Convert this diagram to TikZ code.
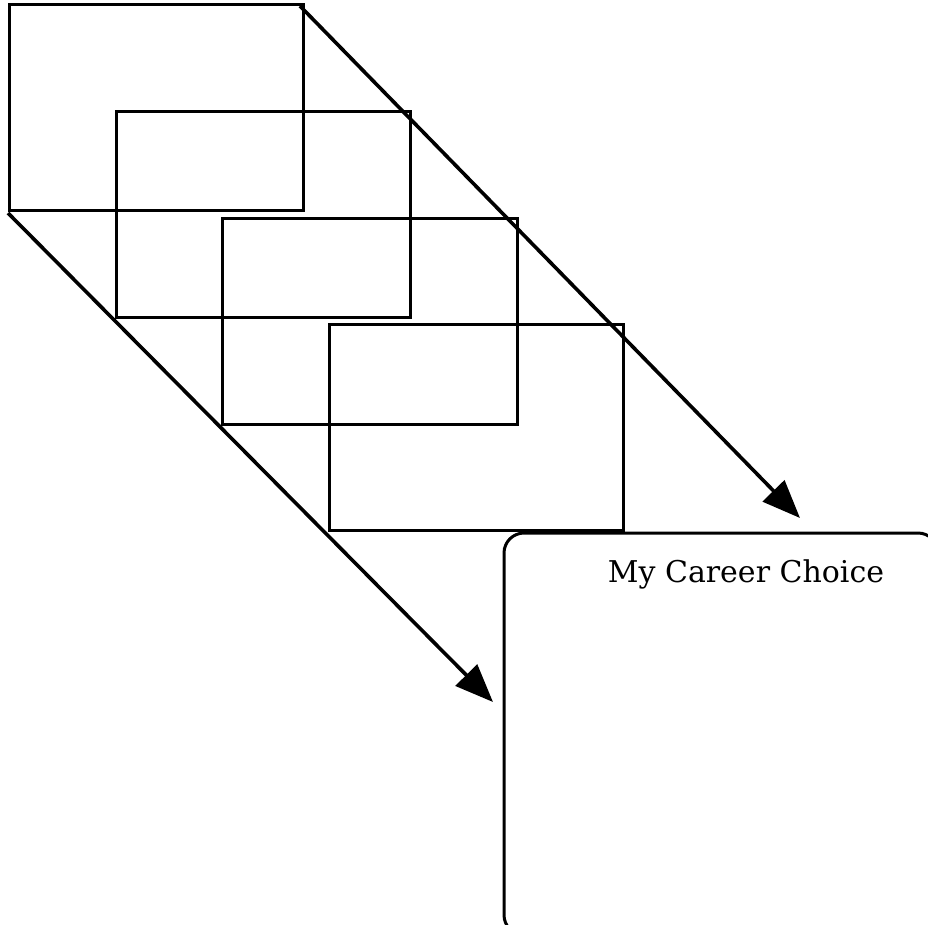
\documentclass[tikz,border=0pt]{standalone}
\usepackage{fontspec}
\setmainfont{DejaVu Serif}
\usetikzlibrary{arrows.meta}
\begin{document}
\begin{tikzpicture}[x=1pt,y=-1pt,
  card/.style={draw=black,line width=3pt},
  flow/.style={draw=black,line width=3.6pt,-{Triangle[length=38pt,width=30pt]}}]
\useasboundingbox (0,0) rectangle (928,924);
\clip (0,0) rectangle (928,924);
\fill[white] (0,0) rectangle (928,924);
\draw[card] (9,4) rectangle (303,210);
\draw[card] (116,111) rectangle (410,317);
\draw[card] (222,218) rectangle (517,424);
\draw[card] (329,324) rectangle (623,530);
\draw[card,rounded corners=20pt] (504,533) rectangle (938,935);
\node[inner sep=0pt,anchor=base] (title) at (746,582) {\fontsize{30}{34}\selectfont My Career Choice};
\coordinate (a1s) at (300,6);
\coordinate (a1e) at (800,518);
\coordinate (a2s) at (8,213);
\coordinate (a2e) at (493,702);
\draw[flow] (a1s) -- (a1e);
\draw[flow] (a2s) -- (a2e);
\end{tikzpicture}
\end{document}
